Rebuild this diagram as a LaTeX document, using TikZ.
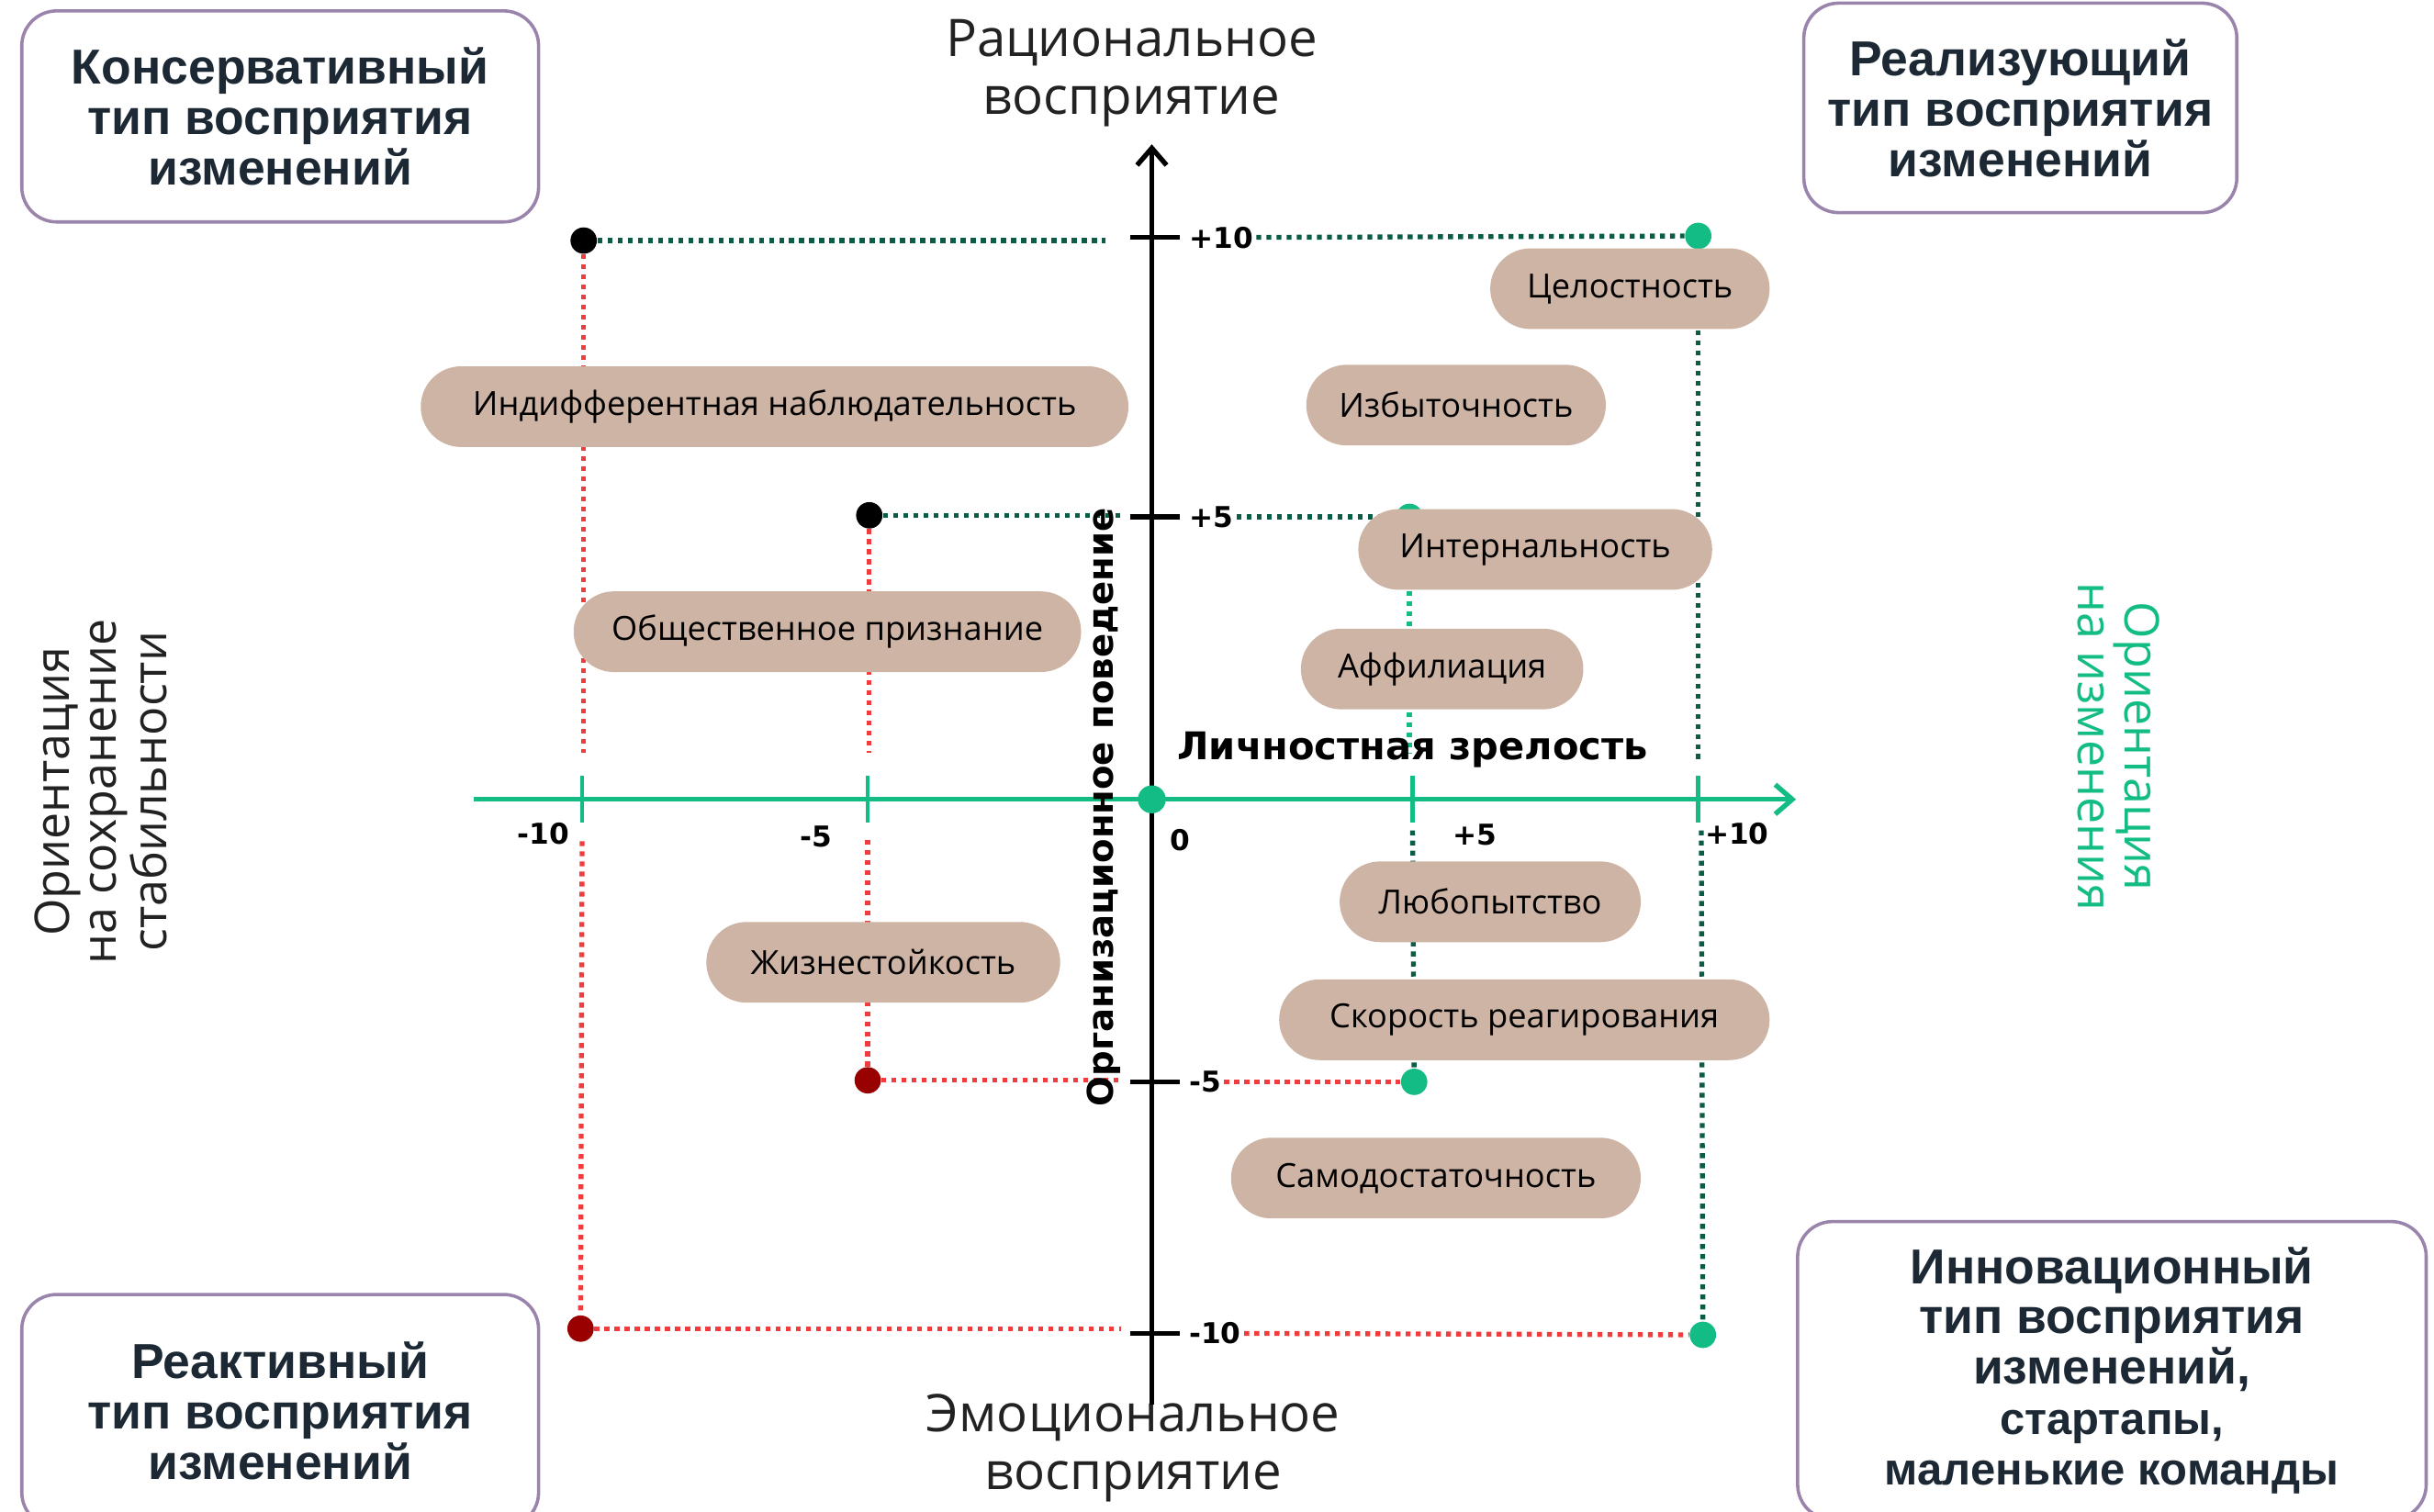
\documentclass[tikz,border=0pt]{standalone}
\usepackage{fontspec}
\setmainfont{Open Sans}
\newfontfamily\boxfont{Liberation Sans}
\newfontfamily\axisfont{DejaVu Sans}
\usepackage{xcolor}
\usetikzlibrary{arrows.meta, positioning}

\definecolor{pillcol}{HTML}{CEB4A5}
\definecolor{axgreen}{HTML}{12BC84}
\definecolor{darkgreen}{HTML}{0B5C47}
\definecolor{dotred}{HTML}{F03C3C}
\definecolor{darkred}{HTML}{990000}
\definecolor{boxline}{HTML}{9A84AC}
\definecolor{boxtext}{HTML}{1C2833}
\definecolor{labtext}{HTML}{222222}

\begin{document}
\begin{tikzpicture}[x=0.02cm, y=-0.02cm,
    pill/.style={fill=pillcol, rounded corners=0.52cm, minimum height=1.04cm, inner sep=0pt, font=\fontsize{12.2}{14}\selectfont},
    corner/.style={draw=boxline, line width=1.2pt, rounded corners=0.45cm, fill=white, align=center, text=boxtext, font=\boxfont\bfseries\fontsize{18}{18.5}\selectfont, inner sep=0pt},
    dot/.style={circle, inner sep=0pt, minimum size=0.34cm},
    ticklab/.style={font=\axisfont\bfseries\fontsize{10.5}{12}\selectfont, inner sep=1pt},
    axlab/.style={font=\axisfont\bfseries\fontsize{13}{15}\selectfont, inner sep=0pt},
    sidelab/.style={align=center, font=\fontsize{17.5}{17}\selectfont, inner sep=0pt},
    redline/.style={draw=dotred, line width=1.8pt, dash pattern=on 1.8pt off 1.9pt},
    greenline/.style={draw=darkgreen, line width=1.8pt, dash pattern=on 1.8pt off 1.9pt},
    tealline/.style={draw=axgreen, line width=1.8pt, dash pattern=on 1.8pt off 1.9pt},
    arrow/.style={-{Straight Barb[length=0.22cm, width=0.38cm]}, line width=1.8pt}
]
\useasboundingbox (0,0) rectangle (1568,974);

% Corner boxes
\node[corner, minimum width=6.66cm, minimum height=2.72cm] (konserv) at (180.5,75) {Консервативный\\тип восприятия\\изменений};
\node[corner, minimum width=5.58cm, minimum height=2.7cm] (realiz) at (1301.5,69.5) {Реализующий\\тип восприятия\\изменений};
\node[corner, minimum width=6.66cm, minimum height=3.0cm] (reakt) at (180.5,909) {Реактивный\\тип восприятия\\изменений};
\node[corner, minimum width=8.1cm, minimum height=3.84cm] (innov) at (1360.5,883) {Инновационный\\тип восприятия\\изменений,\\{\fontsize{16.5}{18}\selectfont стартапы,}\\{\fontsize{16.5}{18}\selectfont маленькие команды}};

% Axis captions
\node[align=center, text=labtext, font=\fontsize{19}{21}\selectfont] (rational) at (729,47) {Рациональное\\восприятие};
\node[align=center, text=labtext, font=\fontsize{19}{21}\selectfont] (emotional) at (730,933) {Эмоциональное\\восприятие};
\node[sidelab, rotate=90, text=labtext] (stab) at (65,510) {Ориентация\\на сохранение\\стабильности};
\node[sidelab, rotate=-90, text=axgreen] (change) at (1365,481) {Ориентация\\на изменения};

% Axes
\coordinate (ybot) at (742,905);
\coordinate (ytop) at (742,93);
\coordinate (xleft) at (305,515);
\coordinate (xright) at (1157,515);
\draw[arrow] (ybot) -- (ytop);
\draw[arrow, axgreen] (xleft) -- (xright);

% Ticks
\foreach \yy/\nm/\v in {153/p10/+10, 333/p5/+5, 697/m5/-5, 859/m10/-10} {
    \draw[line width=1.8pt] (728,\yy) -- (760,\yy);
    \node[ticklab, anchor=west] (ly\nm) at (764,\yy) {\v};
}
\foreach \xx in {375, 559, 910, 1094}
    \draw[axgreen, line width=1.6pt] (\xx,500) -- (\xx,530);
\node[ticklab] (lxm10) at (350,537) {-10};
\node[ticklab] (lxm5) at (526,539) {-5};
\node[ticklab] (lx0) at (760,541) {0};
\node[ticklab] (lxp5) at (950,538) {+5};
\node[ticklab] (lxp10) at (1119,537) {+10};

% Points
\node[dot, fill=black] (kons10) at (376,155) {};
\node[dot, fill=black] (kons5) at (560,332) {};
\node[dot, fill=darkred] (reak5) at (559,696) {};
\node[dot, fill=darkred] (reak10) at (374,856) {};
\node[dot, fill=axgreen] (real10) at (1094,152) {};
\node[dot, fill=axgreen] (real5) at (908,333) {};
\node[dot, fill=axgreen] (inno5) at (911,697) {};
\node[dot, fill=axgreen] (inno10) at (1097,860) {};
\node[dot, fill=axgreen, minimum size=0.36cm] (origin) at (742,515) {};

% Dotted guides, left half
\coordinate (kons10end) at (712,155);
\coordinate (kons5end) at (722,332);
\coordinate (reak5end) at (722,696);
\coordinate (reak10end) at (722,856);
\draw[greenline] (kons10) -- (kons10end);
\draw[greenline] (kons5) -- (kons5end);
\draw[redline] (reak5) -- (reak5end);
\draw[redline] (reak10) -- (reak10end);
\coordinate (v1a) at (376,485); \coordinate (v1b) at (375,542);
\coordinate (v2a) at (560,485); \coordinate (v2b) at (559,541);
\draw[redline] (kons10) -- (v1a);
\draw[redline] (v1b) -- (reak10);
\draw[redline] (kons5) -- (v2a);
\draw[redline] (v2b) -- (reak5);

% Dotted guides, right half
\draw[greenline] (lyp10) -- (real10);
\draw[greenline] (lyp5) -- (real5);
\draw[redline] (lym5) -- (inno5);
\draw[redline] (lym10) -- (inno10);
\coordinate (v3a) at (908,485); \coordinate (v3b) at (910,535);
\coordinate (v4a) at (1094,490); \coordinate (v4b) at (1096,535);
\draw[tealline] (real5) -- (v3a);
\draw[greenline] (v3b) -- (inno5);
\draw[greenline] (real10) -- (v4a);
\draw[greenline] (v4b) -- (inno10);

% Axis names
\node[axlab, rotate=90] (orgbeh) at (711,520) {Организационное поведение};
\node[axlab, font=\axisfont\bfseries\fontsize{14}{16}\selectfont] (maturity) at (910,483) {Личностная зрелость};

% Traits
\node[pill, minimum width=3.6cm] (integr) at (1050,186) {Целостность};
\node[pill, minimum width=9.12cm] (indiff) at (499,262) {Индифферентная наблюдательность};
\node[pill, minimum width=3.86cm] (izbyt) at (938,261) {Избыточность};
\node[pill, minimum width=4.56cm] (intern) at (989,354) {Интернальность};
\node[pill, minimum width=6.54cm] (obshch) at (533,407) {Общественное признание};
\node[pill, minimum width=3.64cm] (affil) at (929,431) {Аффилиация};
\node[pill, minimum width=3.88cm] (lyubop) at (960,581) {Любопытство};
\node[pill, minimum width=4.56cm] (zhizn) at (569,620) {Жизнестойкость};
\node[pill, minimum width=6.32cm] (skor) at (982,657) {Скорость реагирования};
\node[pill, minimum width=5.28cm] (samod) at (925,759) {Самодостаточность};

\end{tikzpicture}
\end{document}
